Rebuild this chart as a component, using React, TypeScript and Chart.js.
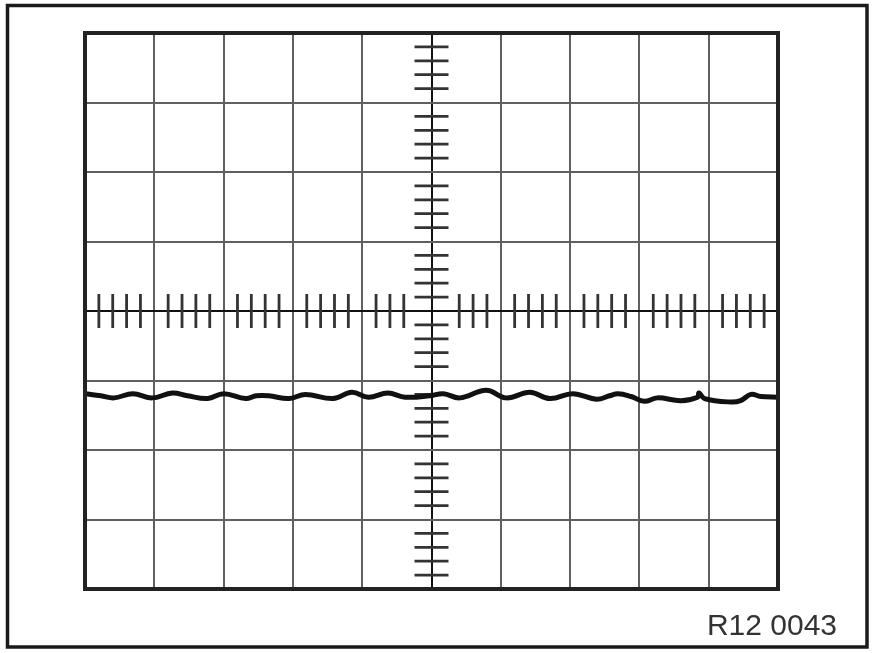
import React, { useEffect, useRef } from "react";
import { Chart, registerables } from "chart.js";

Chart.register(...registerables);

// Screen: 10 horizontal divisions (0..10), 8 vertical divisions (-4..4)
const xMin = 0;
const xMax = 10;
const yMin = -4;
const yMax = 4;
const minorPerDivision = 5;
const caption = "R12 0043";

// Trace (divisions)
const traceX = [
  0.0, 0.23, 0.42, 0.69, 0.97, 1.26, 1.48, 1.77, 2.0, 2.32, 2.47, 2.65, 2.94, 3.18,
  3.58, 3.85, 4.09, 4.37, 4.62, 4.98, 5.17, 5.41, 5.79, 6.08, 6.42, 6.71, 7.04, 7.38,
  7.57, 7.69, 7.88, 8.07, 8.26, 8.6, 8.84, 8.86, 8.94, 9.32, 9.46, 9.61, 9.75, 10.0,
];
const traceY = [
  -1.19, -1.22, -1.25, -1.19, -1.25, -1.18, -1.22, -1.26, -1.19, -1.26, -1.22, -1.22,
  -1.26, -1.2, -1.26, -1.17, -1.24, -1.18, -1.24, -1.22, -1.19, -1.25, -1.14, -1.25,
  -1.17, -1.26, -1.19, -1.27, -1.22, -1.19, -1.23, -1.3, -1.25, -1.29, -1.24, -1.18,
  -1.26, -1.31, -1.29, -1.2, -1.23, -1.24,
];

const scopePlugin = {
  id: "scope",
  beforeDraw(chart: any) {
    const { ctx, width, height } = chart;
    ctx.save();
    ctx.fillStyle = "#ffffff";
    ctx.fillRect(0, 0, width, height);
    ctx.restore();
  },
  beforeDatasetsDraw(chart: any) {
    const { ctx } = chart;
    const xs = chart.scales.x;
    const ys = chart.scales.y;
    const cx = xs.getPixelForValue((xMin + xMax) / 2);
    const cy = ys.getPixelForValue(0);
    ctx.save();
    ctx.strokeStyle = "#333";
    ctx.lineWidth = 2.8;
    const half = 17;
    const nx = (xMax - xMin) * minorPerDivision;
    const centerI = nx / 2;
    for (let i = 1; i < nx; i++) {
      if (i % minorPerDivision === 0) continue;
      if (Math.abs(i - centerI) === 1) continue;
      const px = xs.getPixelForValue(xMin + i / minorPerDivision);
      ctx.beginPath();
      ctx.moveTo(px, cy - half);
      ctx.lineTo(px, cy + half);
      ctx.stroke();
    }
    const ny = (yMax - yMin) * minorPerDivision;
    for (let i = 1; i < ny; i++) {
      if (i % minorPerDivision === 0) continue;
      const py = ys.getPixelForValue(yMin + i / minorPerDivision);
      ctx.beginPath();
      ctx.moveTo(cx - half, py);
      ctx.lineTo(cx + half, py);
      ctx.stroke();
    }
    ctx.restore();
  },
  afterDraw(chart: any) {
    const { ctx, chartArea } = chart;
    ctx.save();
    ctx.strokeStyle = "#222";
    ctx.lineWidth = 4;
    ctx.strokeRect(
      chartArea.left,
      chartArea.top,
      chartArea.right - chartArea.left,
      chartArea.bottom - chartArea.top
    );
    ctx.lineWidth = 3.5;
    ctx.strokeStyle = "#1a1a1a";
    ctx.strokeRect(7.5, 5.5, 859.5, 641.5);
    ctx.fillStyle = "#333";
    ctx.font = '30px "Liberation Sans", Arial, sans-serif';
    ctx.textAlign = "right";
    ctx.textBaseline = "alphabetic";
    ctx.fillText(caption, 837, 635);
    ctx.restore();
  },
};

export default function App() {
  const canvasRef = useRef<HTMLCanvasElement | null>(null);

  useEffect(() => {
    if (!canvasRef.current) return;
    const points = traceX.map((x, i) => ({ x, y: traceY[i] }));
    const chart = new Chart(canvasRef.current, {
      type: "line",
      data: {
        datasets: [
          {
            data: points,
            borderColor: "#111",
            borderWidth: 5,
            pointRadius: 0,
            tension: 0.4,
            fill: false,
          },
        ],
      },
      options: {
        responsive: false,
        animation: false,
        events: [],
        layout: { padding: { left: 85, top: 33, right: 97, bottom: 64 } },
        plugins: { legend: { display: false }, tooltip: { enabled: false } },
        scales: {
          x: {
            type: "linear",
            min: xMin,
            max: xMax,
            ticks: { display: false, stepSize: 1 },
            border: { display: false },
            grid: {
              drawTicks: false,
              lineWidth: 2,
              color: (c: any) => (c.tick && c.tick.value === (xMin + xMax) / 2 ? "#111" : "#606060"),
            },
          },
          y: {
            type: "linear",
            min: yMin,
            max: yMax,
            ticks: { display: false, stepSize: 1 },
            border: { display: false },
            grid: {
              drawTicks: false,
              lineWidth: 2,
              color: (c: any) => (c.tick && c.tick.value === 0 ? "#111" : "#606060"),
            },
          },
        },
      },
      plugins: [scopePlugin],
    });
    return () => chart.destroy();
  }, []);

  return (
    <div style={{ position: "absolute", left: 0, top: 0, width: 875, height: 653, background: "#fff" }}>
      <canvas ref={canvasRef} width={875} height={653} />
    </div>
  );
}
